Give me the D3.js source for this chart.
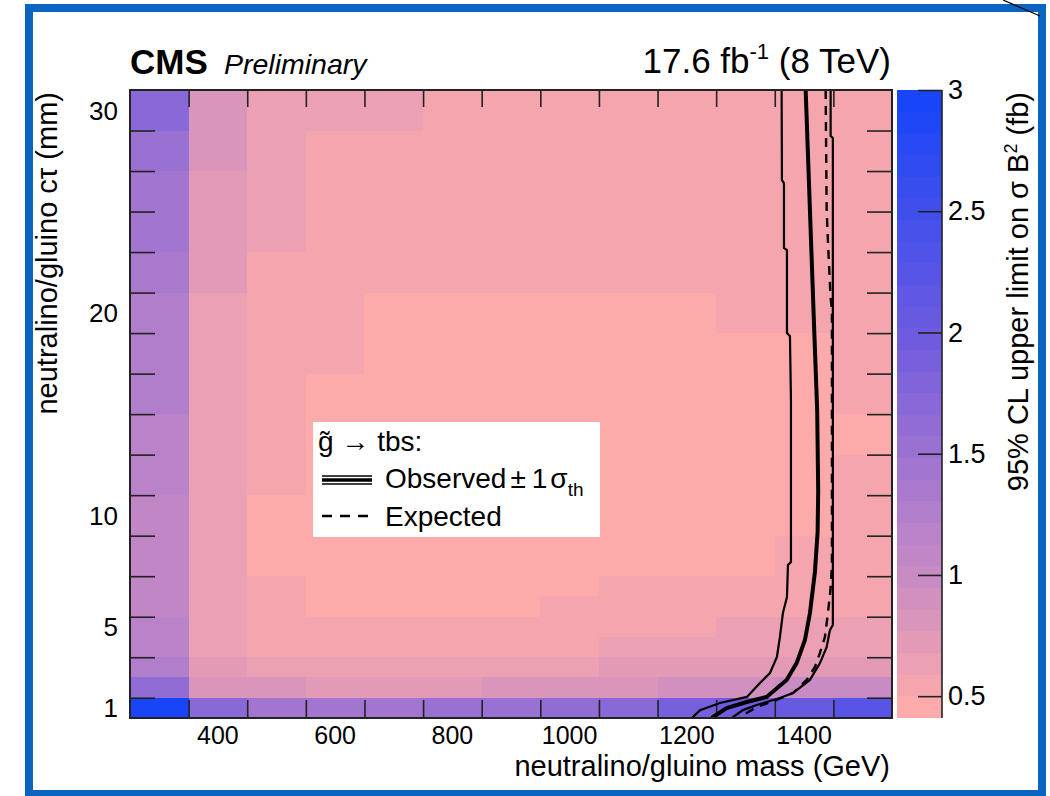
<!DOCTYPE html>
<html>
<head>
<meta charset="utf-8">
<script src="https://cdn.jsdelivr.net/npm/d3@7"></script>
<style>
  body { margin: 0; background: #fff; }
  text { font-family: "Liberation Sans", Arial, Helvetica, sans-serif; fill: #000; }
</style>
</head>
<body>
<script>
// ---- data ----
// mass bin centres (GeV)
const massBins = [300, 400, 500, 600, 700, 800, 900, 1000, 1100, 1200, 1300, 1400, 1500];
// c tau points (mm) and the bin edges used on the y axis
const ctauValues = [1, 2, 3, 4, 5, 6, 7, 8, 10, 12, 14, 16, 18, 20, 22, 24, 26, 28, 30];
const ctauEdges = [0, 1, 2, 3, 4, 5, 6, 7, 9, 11, 13, 15, 17, 19, 21, 23, 25, 27, 29, 31];

// 95% CL upper limit (fb), one row per c tau (bottom to top), one entry per mass bin
const limitGrid = [
  [3.00, 1.68, 1.42, 1.42, 1.42, 1.50, 1.55, 1.60, 1.72, 1.85, 2.00, 2.08, 2.25],
  [1.65, 0.85, 0.82, 0.76, 0.74, 0.76, 0.80, 0.82, 0.83, 0.88, 0.92, 0.96, 1.00],
  [1.24, 0.69, 0.66, 0.65, 0.65, 0.66, 0.66, 0.67, 0.68, 0.72, 0.74, 0.75, 0.76],
  [1.18, 0.64, 0.57, 0.57, 0.55, 0.57, 0.58, 0.58, 0.60, 0.62, 0.64, 0.64, 0.65],
  [1.13, 0.62, 0.54, 0.53, 0.50, 0.52, 0.54, 0.55, 0.56, 0.58, 0.60, 0.60, 0.62],
  [1.12, 0.62, 0.53, 0.47, 0.46, 0.46, 0.47, 0.54, 0.54, 0.55, 0.55, 0.56, 0.57],
  [1.10, 0.62, 0.52, 0.46, 0.45, 0.45, 0.45, 0.46, 0.53, 0.53, 0.53, 0.53, 0.55],
  [1.10, 0.62, 0.46, 0.45, 0.44, 0.44, 0.44, 0.44, 0.45, 0.46, 0.47, 0.52, 0.53],
  [1.12, 0.61, 0.46, 0.45, 0.44, 0.44, 0.44, 0.44, 0.44, 0.45, 0.46, 0.46, 0.52],
  [1.15, 0.62, 0.57, 0.46, 0.44, 0.44, 0.44, 0.44, 0.44, 0.45, 0.45, 0.46, 0.52],
  [1.18, 0.63, 0.56, 0.46, 0.45, 0.44, 0.44, 0.44, 0.44, 0.45, 0.45, 0.46, 0.46],
  [1.22, 0.63, 0.56, 0.47, 0.45, 0.45, 0.45, 0.45, 0.45, 0.45, 0.46, 0.46, 0.52],
  [1.25, 0.65, 0.56, 0.53, 0.45, 0.45, 0.45, 0.45, 0.45, 0.45, 0.46, 0.46, 0.52],
  [1.30, 0.65, 0.54, 0.53, 0.47, 0.45, 0.45, 0.45, 0.45, 0.45, 0.53, 0.53, 0.53],
  [1.37, 0.68, 0.54, 0.54, 0.53, 0.54, 0.54, 0.54, 0.54, 0.54, 0.54, 0.54, 0.54],
  [1.43, 0.70, 0.60, 0.54, 0.54, 0.54, 0.54, 0.54, 0.54, 0.54, 0.54, 0.54, 0.54],
  [1.45, 0.70, 0.60, 0.54, 0.54, 0.54, 0.54, 0.54, 0.54, 0.54, 0.54, 0.54, 0.54],
  [1.50, 0.80, 0.60, 0.54, 0.54, 0.55, 0.55, 0.55, 0.55, 0.53, 0.53, 0.53, 0.53],
  [1.70, 0.78, 0.63, 0.62, 0.61, 0.56, 0.56, 0.56, 0.56, 0.54, 0.54, 0.54, 0.54]
];

// exclusion contours: [mass, position on the c tau axis]
const obsDown = [[1361.7, 31], [1362.2, 26.55], [1365.7, 26.41], [1365.7, 23.2], [1370.8, 23.1],
  [1370.8, 19.0], [1375.9, 18.85], [1377.6, 15.7], [1377.6, 7.7], [1372.5, 7.55], [1370.8, 5.97],
  [1363.9, 5.18], [1358.8, 4.0], [1353.7, 3.01], [1341.8, 2.22], [1324.7, 1.73], [1302.5, 1.04],
  [1256.5, 0.74], [1222.4, 0.39], [1210.5, 0.05], [1205, -0.2]];
const observed = [[1402.7, 31], [1417.3, 19.15], [1422.4, 15.15], [1424.1, 11.2], [1423.1, 9.18],
  [1418.5, 7.21], [1410.0, 5.18], [1401.5, 3.85], [1387.3, 2.71], [1370.2, 1.88], [1336.1, 1.04],
  [1302.0, 0.79], [1267.9, 0.49], [1244.5, 0.05], [1238, -0.2]];
const obsUp = [[1445.3, 31], [1445.3, 28.73], [1449.1, 28.63], [1449.1, 4.59], [1444.1, 4.34],
  [1438.5, 3.5], [1427.1, 2.71], [1410.0, 1.88], [1381.0, 1.23], [1358.8, 0.99], [1319.1, 0.64],
  [1295.7, 0.39], [1278.7, 0.05], [1272, -0.2]];
const expected = [[1436.8, 31], [1438.5, 25.12], [1441.3, 23.15], [1445.3, 20.73], [1447.5, 20.14],
  [1447.5, 7.55], [1445.0, 6.32], [1440.7, 5.18], [1435.6, 4.0], [1427.1, 3.21], [1418.5, 2.52],
  [1404.4, 1.88], [1381.0, 1.23], [1353.2, 0.89], [1319.1, 0.54], [1290.6, 0.05], [1284, -0.2]];

const xTickLabels = [400, 600, 800, 1000, 1200, 1400];
const yTickLabels = [1, 5, 10, 20, 30];
const zTicks = [0.5, 1, 1.5, 2, 2.5, 3];
const zMin = 0.41, zMax = 3.0, nBands = 29;

// ---- drawing ----
const W = 1050, H = 796;
const svg = d3.select("body").append("svg")
  .attr("width", W).attr("height", H)
  .style("background", "#fff");

const x = d3.scaleLinear().domain([250, 1550]).range([130, 892]);
const y = d3.scaleLinear().domain([0, 31]).range([718, 90]);
const z = d3.scaleLinear().domain([zMin, zMax]).range([718, 90]);

const palette = d3.scaleLinear()
  .domain([0.455, 1.0, 2.0, 3.0])
  .range(["#fdaaaa", "#c88ac4", "#6e5ae0", "#1444f8"])
  .interpolate(d3.interpolateRgb)
  .clamp(true);
const step = (zMax - zMin) / nBands;
function bandColor(v) {
  let i = Math.floor((v - zMin) / step);
  i = Math.max(0, Math.min(nBands - 1, i));
  return palette(zMin + (i + 0.5) * step);
}

// outer blue frame
svg.append("rect")
  .attr("x", 29).attr("y", 8).attr("width", 1013).attr("height", 786)
  .attr("fill", "none").attr("stroke", "#0a64c0").attr("stroke-width", 8);
svg.append("line")
  .attr("x1", 1003).attr("y1", 0).attr("x2", 1040).attr("y2", 16)
  .attr("stroke", "#000").attr("stroke-width", 1.2);

// heat map cells
const halfW = (massBins[1] - massBins[0]) / 2;
const cells = [];
limitGrid.forEach((row, i) => {
  row.forEach((v, j) => {
    cells.push({ m: massBins[j], lo: ctauEdges[i], hi: ctauEdges[i + 1], v: v });
  });
});
svg.append("g").selectAll("rect")
  .data(cells)
  .enter().append("rect")
  .attr("x", d => x(d.m - halfW))
  .attr("y", d => y(d.hi))
  .attr("width", d => x(d.m + halfW) - x(d.m - halfW))
  .attr("height", d => y(d.lo) - y(d.hi))
  .attr("fill", d => bandColor(d.v))
  .attr("shape-rendering", "crispEdges");

// axes ticks
const xEdges = massBins.slice(1).map(m => m - halfW);
const yTicks = d3.range(1, 30, 2);

const tickStyle = g => {
  g.select(".domain").remove();
  g.selectAll(".tick line").attr("stroke", "#222").attr("stroke-width", 1.6);
  g.selectAll(".tick text").remove();
};
svg.append("g").attr("transform", "translate(0,718)")
  .call(d3.axisBottom(x).tickValues(xEdges).tickSize(-18).tickSizeOuter(0))
  .call(tickStyle);
svg.append("g").attr("transform", "translate(0,90)")
  .call(d3.axisTop(x).tickValues(xEdges).tickSize(-17).tickSizeOuter(0))
  .call(tickStyle);
svg.append("g").attr("transform", "translate(130,0)")
  .call(d3.axisLeft(y).tickValues(yTicks).tickSize(-25).tickSizeOuter(0))
  .call(tickStyle);
svg.append("g").attr("transform", "translate(892,0)")
  .call(d3.axisRight(y).tickValues(yTicks).tickSize(-25).tickSizeOuter(0))
  .call(tickStyle);

// tick labels
svg.append("g").selectAll("text")
  .data(xTickLabels)
  .enter().append("text")
  .attr("x", d => x(d)).attr("y", 744)
  .attr("text-anchor", "middle")
  .style("font-size", "25px")
  .text(d => d);

svg.append("g").selectAll("text")
  .data(yTickLabels)
  .enter().append("text")
  .attr("x", 118)
  .attr("y", d => {
    const k = ctauValues.indexOf(d);
    return y((ctauEdges[k] + ctauEdges[k + 1]) / 2);
  })
  .attr("dy", "0.36em")
  .attr("text-anchor", "end")
  .style("font-size", "26px")
  .text(d => d);

// exclusion curves
const line = d3.line().x(d => x(d[0])).y(d => y(d[1]));
svg.append("clipPath").attr("id", "plotClip")
  .append("rect").attr("x", 130).attr("y", 90).attr("width", 762).attr("height", 628);
const curves = svg.append("g").attr("clip-path", "url(#plotClip)");
curves.append("path").datum(expected).attr("d", line)
  .attr("fill", "none").attr("stroke", "#000").attr("stroke-width", 2.4)
  .attr("stroke-dasharray", "9,7");
curves.append("path").datum(obsDown).attr("d", line)
  .attr("fill", "none").attr("stroke", "#000").attr("stroke-width", 2.2);
curves.append("path").datum(obsUp).attr("d", line)
  .attr("fill", "none").attr("stroke", "#000").attr("stroke-width", 2.2);
curves.append("path").datum(observed).attr("d", line)
  .attr("fill", "none").attr("stroke", "#000").attr("stroke-width", 4);

// frame
svg.append("rect")
  .attr("x", 130).attr("y", 90).attr("width", 762).attr("height", 628)
  .attr("fill", "none").attr("stroke", "#222").attr("stroke-width", 2);

// colour bar
svg.append("g").selectAll("rect")
  .data(d3.range(nBands))
  .enter().append("rect")
  .attr("x", 897).attr("width", 45)
  .attr("y", i => z(zMin + (i + 1) * step))
  .attr("height", i => z(zMin + i * step) - z(zMin + (i + 1) * step))
  .attr("fill", i => palette(zMin + (i + 0.5) * step))
  .attr("shape-rendering", "crispEdges");
const zAxis = svg.append("g").attr("transform", "translate(942,0)")
  .call(d3.axisRight(z).tickValues(zTicks).tickFormat(d => String(d))
    .tickSize(-24).tickSizeOuter(0).tickPadding(6));
zAxis.select(".domain").remove();
zAxis.selectAll(".tick line").attr("stroke", "#222").attr("stroke-width", 1.6);
zAxis.selectAll(".tick text")
  .style("font-size", "27px")
  .style("font-family", "'Liberation Sans', Arial, sans-serif")
  .attr("fill", "#000");
svg.append("line")
  .attr("x1", 942).attr("x2", 942).attr("y1", 90).attr("y2", 718)
  .attr("stroke", "#222").attr("stroke-width", 1.6);

// axis titles
svg.append("text")
  .attr("x", 890).attr("y", 776)
  .attr("text-anchor", "end")
  .style("font-size", "29px")
  .text("neutralino/gluino mass (GeV)");

svg.append("text")
  .attr("transform", "translate(57,92) rotate(-90)")
  .attr("text-anchor", "end")
  .style("font-size", "29px")
  .text("neutralino/gluino c\u03c4 (mm)");

const zTitle = svg.append("text")
  .attr("transform", "translate(1028,92) rotate(-90)")
  .attr("text-anchor", "end")
  .style("font-size", "29px");
zTitle.append("tspan").text("95% CL upper limit on \u03c3 B");
zTitle.append("tspan").attr("dy", -11).style("font-size", "18px").text("2");
zTitle.append("tspan").attr("dy", 11).text(" (fb)");

// header
svg.append("text")
  .attr("x", 130).attr("y", 74)
  .style("font-size", "35px").style("font-weight", "bold")
  .text("CMS");
svg.append("text")
  .attr("x", 224).attr("y", 74)
  .style("font-size", "28.5px").style("font-style", "italic")
  .text("Preliminary");
const lumi = svg.append("text")
  .attr("x", 891).attr("y", 73)
  .attr("text-anchor", "end")
  .style("font-size", "35px");
lumi.append("tspan").text("17.6 fb");
lumi.append("tspan").attr("dy", -14).style("font-size", "22px").text("-1");
lumi.append("tspan").attr("dy", 14).text(" (8 TeV)");

// legend
const leg = svg.append("g");
leg.append("rect")
  .attr("x", 313).attr("y", 422).attr("width", 287).attr("height", 115)
  .attr("fill", "#fff");
leg.append("text")
  .attr("x", 318).attr("y", 451)
  .style("font-size", "28px")
  .text("g\u0303 \u2192 tbs:");
[[476, 1.5], [480, 3.5], [484, 1.5]].forEach(p => {
  leg.append("line")
    .attr("x1", 322).attr("x2", 372).attr("y1", p[0]).attr("y2", p[0])
    .attr("stroke", "#000").attr("stroke-width", p[1]);
});
const obsText = leg.append("text")
  .attr("x", 385).attr("y", 488)
  .style("font-size", "28px");
obsText.append("tspan").text("Observed");
obsText.append("tspan").attr("dx", 4).text("\u00b1");
obsText.append("tspan").attr("dx", 6).text("1");
obsText.append("tspan").attr("dx", 3).text("\u03c3");
obsText.append("tspan").attr("dy", 8).style("font-size", "19px").text("th");
leg.append("line")
  .attr("x1", 322).attr("x2", 370).attr("y1", 516).attr("y2", 516)
  .attr("stroke", "#000").attr("stroke-width", 2.4)
  .attr("stroke-dasharray", "10,8");
leg.append("text")
  .attr("x", 385).attr("y", 526)
  .style("font-size", "28px")
  .text("Expected");
</script>
</body>
</html>
